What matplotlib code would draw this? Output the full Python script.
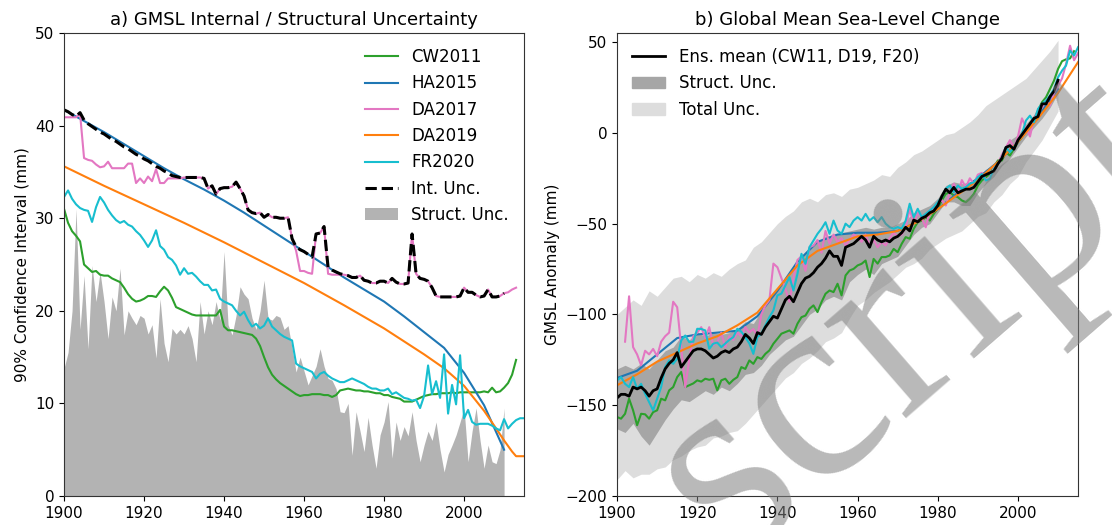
import numpy as np
import matplotlib
matplotlib.use('Agg')
import matplotlib.pyplot as plt
from matplotlib.patches import Patch
from matplotlib.lines import Line2D

plt.rcParams['font.family'] = ['DejaVu Sans']
plt.rcParams['font.size'] = 11

# ---------------- panel a) data (90% CI, mm) ----------------
ha_years = [1900, 1905, 1910, 1915, 1920, 1925, 1930, 1935, 1940, 1945, 1950, 1955,
            1960, 1965, 1970, 1975, 1980, 1985, 1990, 1995, 2000, 2005, 2010]
ha_ci = [41.7, 40.5, 39.3, 38.0, 36.7, 35.4, 34.2, 33.1, 31.9, 30.6, 29.2, 27.8,
         26.4, 25.0, 23.6, 22.3, 21.0, 19.4, 17.7, 16.0, 13.3, 9.8, 5.0]

da19_years = [1900, 1910, 1920, 1930, 1940, 1950, 1960, 1970, 1980, 1990, 1995,
              2000, 2005, 2008, 2010, 2012, 2013, 2015]
da19_ci = [35.6, 33.5, 31.5, 29.5, 27.4, 25.2, 23.0, 20.6, 18.1, 15.3, 13.8,
           11.9, 9.2, 7.3, 6.0, 4.8, 4.3, 4.3]

# 1900-2013
da17_ci = [40.9, 40.9, 40.9, 40.9, 41.3, 36.5, 36.3, 36.2, 35.8, 35.5,
           35.6, 36.1, 35.4, 35.4, 35.4, 35.4, 35.9, 35.9, 33.8, 34.3,
           33.8, 34.5, 34.0, 35.3, 33.8, 33.8, 34.3, 34.3, 34.3, 34.3,
           34.4, 34.4, 34.4, 34.4, 34.4, 34.3, 33.2, 33.5, 32.6, 33.2,
           33.3, 33.3, 33.4, 33.9, 33.2, 32.4, 30.9, 30.6, 30.5, 30.6,
           30.1, 30.4, 30.1, 30.1, 30.0, 30.0, 30.1, 27.8, 26.5, 24.3,
           24.3, 24.1, 24.0, 28.3, 28.4, 29.1, 24.0, 23.9, 23.9, 23.9,
           23.9, 23.8, 23.6, 23.6, 23.8, 23.3, 23.2, 23.0, 23.0, 23.2,
           23.2, 23.0, 23.5, 23.1, 22.9, 22.9, 23.0, 28.3, 24.0, 23.5,
           23.4, 23.2, 22.5, 21.6, 21.5, 21.5, 21.5, 21.5, 21.5, 21.6,
           22.5, 22.0, 22.0, 21.7, 21.5, 21.6, 22.3, 21.5, 21.5, 21.6,
           21.9, 22.0, 22.3, 22.5]

# internal uncertainty, 1900-2010
int_unc = [41.7, 41.5, 41.2, 41.0, 41.4, 40.6, 40.2, 39.9, 39.6, 39.3,
           39.1, 38.8, 38.5, 38.3, 38.0, 37.7, 37.5, 37.2, 36.9, 36.7,
           36.4, 36.2, 35.9, 35.6, 35.4, 35.1, 34.9, 34.6, 34.5, 34.4,
           34.4, 34.4, 34.4, 34.4, 34.4, 34.3, 33.2, 33.5, 32.6, 33.2,
           33.3, 33.3, 33.4, 33.9, 33.2, 32.4, 30.9, 30.6, 30.5, 30.6,
           30.1, 30.4, 30.1, 30.1, 30.0, 30.0, 30.1, 27.8, 26.9, 26.6,
           26.4, 26.1, 25.8, 28.3, 28.4, 29.1, 24.7, 24.4, 24.2, 24.0,
           23.9, 23.8, 23.6, 23.6, 23.8, 23.3, 23.2, 23.0, 23.0, 23.2,
           23.2, 23.0, 23.5, 23.1, 22.9, 22.9, 23.0, 28.3, 24.0, 23.5,
           23.4, 23.2, 22.5, 21.6, 21.5, 21.5, 21.5, 21.5, 21.5, 21.6,
           22.5, 22.0, 22.0, 21.7, 21.5, 21.6, 22.3, 21.5, 21.5, 21.6,
           21.9]

# 1900-2015
fr20_ci = [32.3, 33.0, 32.1, 31.5, 31.1, 30.9, 30.8, 29.6, 31.2, 32.3,
           31.7, 30.9, 30.3, 29.8, 29.5, 29.7, 29.3, 29.1, 28.6, 28.2,
           27.6, 26.9, 27.6, 28.7, 27.0, 26.6, 25.8, 25.5, 24.9, 23.9,
           24.6, 24.0, 24.1, 23.7, 23.2, 22.8, 22.8, 22.2, 22.3, 21.3,
           21.0, 20.8, 20.6, 20.0, 19.5, 19.9, 19.0, 18.3, 18.6, 18.1,
           18.4, 19.2, 18.3, 17.9, 17.5, 17.2, 17.0, 16.8, 14.3, 14.0,
           13.8, 13.6, 13.4, 12.7, 13.2, 13.4, 13.0, 12.7, 12.5, 12.3,
           12.3, 12.5, 12.7, 12.5, 12.3, 12.1, 11.8, 11.6, 11.6, 11.4,
           11.4, 11.6, 11.0, 11.2, 10.9, 10.6, 10.5, 10.3, 10.4, 9.5,
           10.8, 14.1, 11.0, 12.4, 10.6, 15.3, 8.9, 12.0, 9.9, 15.2,
           8.4, 9.3, 8.0, 7.7, 7.8, 7.8, 7.8, 7.6, 7.3, 7.1,
           8.3, 7.3, 7.8, 8.2, 8.4, 8.4]

# 1900-2013
cw11_ci = [31.0, 29.5, 28.6, 28.1, 27.5, 25.0, 24.6, 24.2, 24.3, 23.9,
           23.8, 23.8, 23.5, 23.3, 23.1, 22.5, 21.8, 21.3, 21.0, 21.1,
           21.3, 21.6, 21.6, 21.5, 22.1, 22.6, 22.2, 21.4, 20.4, 20.2,
           20.0, 19.8, 19.6, 19.5, 19.5, 19.5, 19.5, 19.5, 19.5, 20.1,
           18.3, 17.9, 17.9, 17.8, 17.7, 17.6, 17.5, 17.4, 17.0, 16.2,
           15.0, 13.9, 13.1, 12.6, 12.2, 11.9, 11.6, 11.3, 11.0, 10.8,
           10.9, 10.9, 11.0, 11.0, 11.0, 10.9, 10.9, 10.7, 10.9, 11.4,
           11.5, 11.6, 11.5, 11.4, 11.4, 11.3, 11.3, 11.2, 11.1, 11.1,
           10.9, 10.9, 10.7, 10.6, 10.5, 10.2, 10.2, 10.2, 10.4, 10.6,
           10.8, 10.9, 11.0, 11.0, 11.1, 11.1, 11.1, 11.2, 11.1, 11.2,
           11.2, 11.2, 11.2, 11.2, 11.2, 11.3, 11.2, 11.7, 11.2, 11.3,
           11.7, 12.2, 13.1, 14.7]

# structural uncertainty, 1900-2010
struct_ci = [13.8, 15.5, 20.0, 31.0, 18.0, 23.8, 15.9, 24.9, 21.0, 24.2,
             21.0, 17.0, 21.5, 20.0, 24.6, 17.4, 20.0, 19.2, 18.5, 19.5,
             19.2, 17.5, 18.5, 14.9, 21.3, 16.5, 14.5, 18.1, 17.5, 18.0,
             17.5, 18.4, 17.0, 14.5, 21.0, 17.5, 20.0, 18.5, 21.0, 19.0,
             26.4, 18.5, 17.4, 19.5, 22.6, 21.8, 21.3, 19.2, 18.0, 20.0,
             23.3, 19.2, 19.0, 19.5, 19.3, 18.0, 18.4, 16.0, 13.4, 15.0,
             13.5, 12.0, 13.0, 14.0, 15.9, 14.0, 12.7, 12.5, 11.6, 9.1,
             9.0, 10.0, 4.4, 9.1, 7.0, 4.8, 8.5, 5.5, 3.0, 6.6,
             8.0, 10.2, 4.1, 8.0, 6.0, 7.5, 6.5, 9.1, 6.0, 3.7,
             5.5, 7.0, 6.0, 8.0, 5.0, 2.6, 4.5, 5.5, 6.6, 8.0,
             9.5, 3.7, 7.0, 9.5, 6.0, 3.0, 5.5, 3.7, 3.5, 5.0,
             9.5]

# ---------------- panel b) data (GMSL anomaly, mm) ----------------
ens_mean = [-146, -144, -144, -145, -140, -141, -140, -142, -145, -142,
            -141, -135, -130, -127, -125, -121, -129, -126, -123, -120,
            -119, -119, -120, -122, -124, -123, -121, -120, -121, -119,
            -118, -115, -111, -113, -116, -110, -111, -107, -104, -101,
            -102, -97, -92, -90, -93, -88, -83, -80, -79, -77,
            -74, -72, -69, -65, -68, -68, -73, -63, -62, -61,
            -59, -57, -59, -63, -57, -59, -60, -59, -60, -58,
            -57, -55, -52, -54, -48, -49, -47, -46, -44, -43,
            -40, -35, -31, -33, -30, -33, -32, -31, -31, -30,
            -27, -24, -23, -22, -21, -17, -14, -8, -7, -9,
            -4, -1, 2, 5, 8, 9, 16, 16, 20, 23,
            29]

cw11_gmsl = [-156.5, -157.4, -154.7, -146.4, -152.8, -161.0, -154.7, -155.0, -157.4, -153.8,
             -152.8, -146.4, -147.3, -141.8, -140.0, -134.5, -131.7, -140.0, -139.0, -138.0,
             -136.3, -137.0, -135.4, -136.0, -135.4, -141.8, -136.3, -135.4, -138.2, -136.0,
             -134.5, -129.0, -130.0, -125.3, -127.2, -123.5, -124.5, -121.7, -119.8, -116.1,
             -113.4, -110.6, -109.7, -108.8, -110.6, -105.1, -101.5, -100.6, -96.9, -95.0,
             -98.7, -93.2, -88.6, -86.8, -87.7, -83.1, -89.5, -78.5, -75.8, -74.9,
             -73.0, -72.1, -70.3, -79.4, -69.4, -72.0, -68.4, -68.4, -67.5, -63.9,
             -65.7, -61.1, -57.4, -58.3, -52.8, -49.2, -48.3, -46.4, -48.3, -44.6,
             -41.8, -37.2, -33.6, -32.7, -34.5, -35.4, -37.2, -38.2, -36.3, -33.6,
             -29.0, -26.2, -24.4, -22.6, -18.9, -15.2, -15.2, -10.6, -12.5, -8.8,
             -5.1, -2.4, 1.3, 5.0, 7.7, 12.3, 16.9, 19.6, 24.2, 28.8,
             35.2, 39.5, 40.5, 41.0, 45.0]

ha_gmsl = [-135, -131, -122, -113, -111, -110, -109, -101, -87, -71, -60, -56,
           -55, -55, -54, -49, -42, -33, -25, -16, -5, 9, 24]

da19_gmsl_years = [1900, 1905, 1910, 1915, 1920, 1925, 1930, 1935, 1940, 1945, 1950, 1955,
                   1960, 1965, 1970, 1975, 1980, 1985, 1990, 1995, 2000, 2005, 2010, 2015]
da19_gmsl = [-139, -133, -126, -121, -116, -112, -106, -99, -86, -73, -65, -61,
             -57, -56, -54, -49, -42, -34, -26, -16, -5, 8, 22, 39]

# 1902-2015
da17_gmsl = [-115, -90, -118, -122, -128, -120, -122, -119,
             -123, -115, -112, -110, -93, -96, -118, -140, -125, -112,
             -110, -107, -113, -107, -117, -115, -110, -118, -112, -114,
             -110, -112, -107, -110, -108, -112, -100, -95, -92, -72,
             -74, -80, -86, -93, -80, -70, -68, -76, -63, -62,
             -59, -66, -54, -61, -56, -60, -58, -62, -59, -56,
             -57, -60, -56, -62, -59, -63, -60, -62, -58, -55,
             -57, -56, -52, -42, -50, -44, -47, -52, -43, -41,
             -39, -37, -40, -33, -28, -34, -26, -30, -25, -28,
             -23, -22, -26, -25, -19, -17, -12, -8, -4, -8,
             -2, 8, 3, -2, 8, 12, 14, 18, 15, 22,
             26, 30, 38, 48, 40, 44]

# 1900-2015
fr20_gmsl = [-136.3, -134.5, -138.2, -140.0, -134.5, -141.0, -138.2, -143.7, -148.3, -152.8,
             -146.4, -140.0, -129.0, -125.3, -127.2, -124.4, -114.3, -111.6, -115.2, -115.0,
             -107.9, -108.0, -108.8, -118.9, -116.1, -115.5, -118.0, -116.0, -114.0, -112.5,
             -107.9, -109.5, -112.5, -116.0, -121.7, -112.5, -110.6, -106.0, -101.5, -97.8,
             -89.5, -88.5, -84.0, -79.4, -86.8, -77.6, -66.6, -72.1, -62.9, -59.3,
             -55.6, -52.8, -49.2, -55.6, -48.3, -53.8, -55.6, -50.0, -51.9, -48.3,
             -46.4, -48.3, -44.6, -48.3, -46.4, -49.2, -46.4, -50.0, -51.9, -52.8,
             -51.9, -52.8, -48.3, -39.0, -46.4, -41.8, -46.4, -44.6, -42.8, -40.9,
             -38.2, -35.4, -30.8, -29.0, -32.7, -29.0, -30.8, -29.9, -28.0, -27.2,
             -24.4, -22.6, -26.2, -25.3, -19.8, -17.0, -13.4, -7.9, -10.6, -7.9,
             -4.2, -0.6, 6.8, 9.5, 5.9, 13.2, 16.0, 17.8, 20.6, 24.2,
             30.6, 34.3, 37.1, 45.3, 42.6, 47.2]

band_years = list(range(1900, 2011, 2))
total_hi = [-100, -96, -92, -95, -87, -90, -85, -80, -79, -82, -78, -80, -77, -79,
            -75, -72, -70, -63, -60, -55, -50, -46, -43, -38, -36, -38, -34, -33,
            -35, -31, -30, -28, -26, -23, -24, -19, -16, -12, -10, -7, -4, -1,
            0, 3, 6, 10, 15, 18, 21, 24, 27, 30, 35, 40, 45, 51]
total_lo = [-191, -186, -190, -188, -188, -185, -184, -180, -178, -175, -173, -172, -168, -167,
            -165, -164, -160, -155, -150, -145, -140, -135, -132, -127, -124, -120, -115, -113,
            -110, -102, -95, -92, -88, -85, -82, -78, -74, -72, -69, -64, -61, -58,
            -56, -54, -50, -46, -44, -38, -34, -28, -24, -16, -10, -4, 4, 12]
struct_hi = [-130, -128, -130, -127, -130, -125, -120, -118, -112, -114, -110, -112, -110, -111,
             -110, -108, -104, -105, -98, -92, -86, -80, -75, -68, -63, -60, -57, -56,
             -55, -54, -53, -52, -53, -52, -52, -50, -48, -44, -42, -40, -36, -29,
             -27, -28, -27, -24, -20, -18, -12, -4, -1, 5, 10, 15, 20, 28]
struct_lo = [-163, -165, -160, -167, -172, -165, -158, -152, -147, -148, -145, -142, -144, -140,
             -142, -138, -133, -132, -128, -122, -118, -114, -112, -106, -100, -97, -92, -90,
             -92, -82, -78, -75, -78, -72, -70, -68, -62, -56, -52, -50, -44, -38,
             -38, -40, -40, -33, -28, -24, -18, -14, -8, -2, 3, 8, 14, 22]

c_cw, c_ha, c_d17, c_d19, c_fr = 'tab:green', 'tab:blue', 'tab:pink', 'tab:orange', 'tab:cyan'


def yrs(start, vals):
    return start + np.arange(len(vals))


fig = plt.figure(figsize=(11.12, 5.25), dpi=100)
ax1 = fig.add_axes([0.0576, 0.0552, 0.4137, 0.8819])
ax2 = fig.add_axes([0.5549, 0.0552, 0.4146, 0.8819])

# ---- panel a
ax1.fill_between(yrs(1900, struct_ci), 0, struct_ci, color='#b3b3b3', lw=0,
                 label='Struct. Unc.')
ax1.plot(yrs(1900, cw11_ci), cw11_ci, color=c_cw, lw=1.5, label='CW2011')
ax1.plot(ha_years, ha_ci, color=c_ha, lw=1.5, label='HA2015')
ax1.plot(yrs(1900, da17_ci), da17_ci, color=c_d17, lw=1.5, label='DA2017')
ax1.plot(da19_years, da19_ci, color=c_d19, lw=1.5, label='DA2019')
ax1.plot(yrs(1900, fr20_ci), fr20_ci, color=c_fr, lw=1.5, label='FR2020')
ax1.plot(yrs(1900, int_unc), int_unc, color='k', lw=2.2, ls='--', label='Int. Unc.')

h, l = ax1.get_legend_handles_labels()
order = ['CW2011', 'HA2015', 'DA2017', 'DA2019', 'FR2020', 'Int. Unc.', 'Struct. Unc.']
ax1.legend([h[l.index(k)] for k in order], order, loc='upper right', frameon=False,
           fontsize=12)
ax1.set_xlim(1900, 2015)
ax1.set_ylim(0, 50)
ax1.set_ylabel('90% Confidence Interval (mm)')
ax1.set_title('a) GMSL Internal / Structural Uncertainty', fontsize=13)

# ---- panel b
ax2.fill_between(band_years, total_lo, total_hi, color='#dddddd', lw=0)
ax2.fill_between(band_years, struct_lo, struct_hi, color='#a6a6a6', lw=0)
ax2.plot(yrs(1900, cw11_gmsl), cw11_gmsl, color=c_cw, lw=1.5)
ax2.plot(ha_years, ha_gmsl, color=c_ha, lw=1.5)
ax2.plot(yrs(1902, da17_gmsl), da17_gmsl, color=c_d17, lw=1.5)
ax2.plot(da19_gmsl_years, da19_gmsl, color=c_d19, lw=1.5)
ax2.plot(yrs(1900, fr20_gmsl), fr20_gmsl, color=c_fr, lw=1.5)
ax2.plot(yrs(1900, ens_mean), ens_mean, color='k', lw=2)

handles = [Line2D([], [], color='k', lw=2),
           Patch(color='#a6a6a6'), Patch(color='#dddddd')]
ax2.legend(handles, ['Ens. mean (CW11, D19, F20)', 'Struct. Unc.', 'Total Unc.'],
           loc='upper left', frameon=False, fontsize=12)
ax2.set_xlim(1900, 2015)
ax2.set_ylim(-200, 55)
ax2.set_yticks([-200, -150, -100, -50, 0, 50])
ax2.set_ylabel('GMSL Anomaly (mm)')
ax2.set_title('b) Global Mean Sea-Level Change', fontsize=13)

for ax in (ax1, ax2):
    ax.set_xticks([1900, 1920, 1940, 1960, 1980, 2000])
    for s in ax.spines.values():
        s.set_color('#333333')

# manuscript watermark, partly off the page as in the source
fig.text(730 / 1112, 1 - 561 / 525, 'script', rotation=41, rotation_mode='anchor',
         ha='left', va='baseline', fontsize=195, family='Liberation Serif',
         color='#7f7f7f', alpha=0.55, zorder=10)

fig.savefig('out.png', dpi=100)
